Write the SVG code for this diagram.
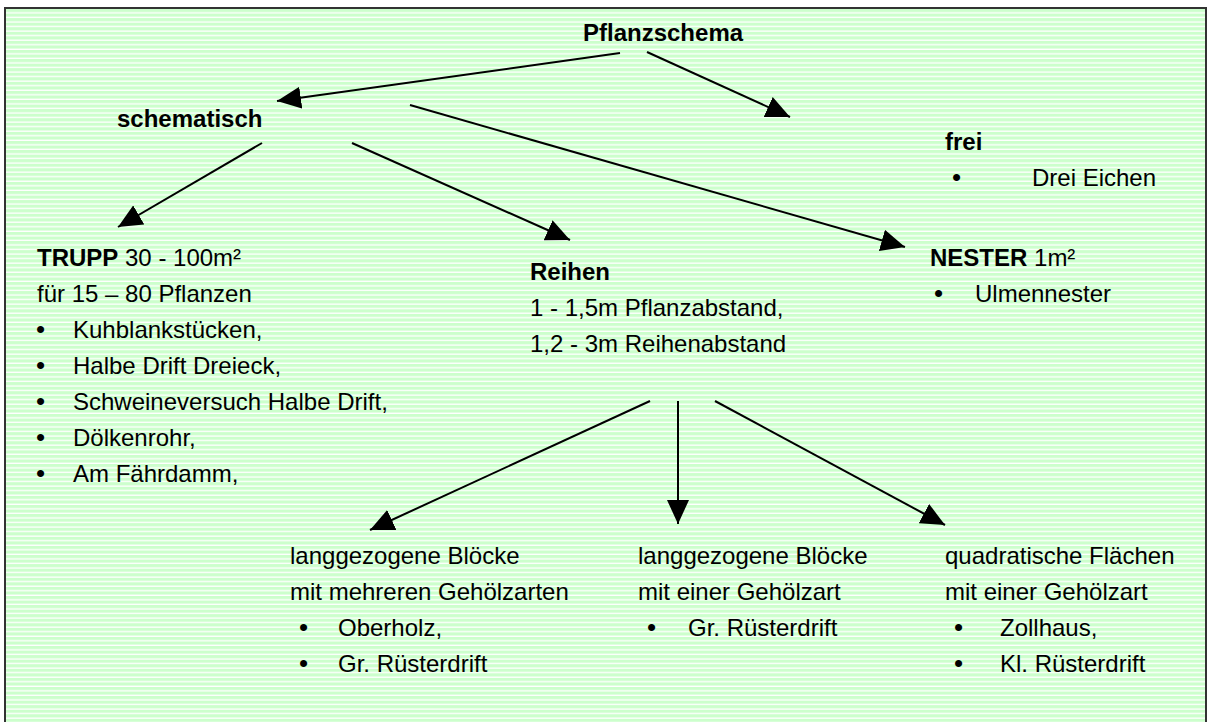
<svg xmlns="http://www.w3.org/2000/svg" width="1209" height="722" viewBox="0 0 1209 722">
<defs>
<pattern id="stripes" patternUnits="userSpaceOnUse" x="0" y="9" width="20" height="4.55">
<rect x="0" y="0" width="20" height="4.55" fill="#ccffcc"/>
<rect x="0" y="3.2" width="20" height="1.35" fill="#ffffff"/>
</pattern>
<marker id="arrow" viewBox="0 0 24 22" refX="24" refY="11" markerWidth="24" markerHeight="22" markerUnits="userSpaceOnUse" orient="auto">
<path d="M0,0 L24,11 L0,22 z" fill="#000"/>
</marker>
</defs>
<style>
text{font-family:"Liberation Sans",Arial,sans-serif;font-size:24px;fill:#000}
.b{font-weight:bold}
.bul{font-size:26px}
.c{stroke:#000;stroke-width:2;fill:none;marker-end:url(#arrow)}
</style>
<rect x="0" y="0" width="1209" height="722" fill="#ffffff"/>
<rect x="5" y="8" width="1201" height="730" fill="url(#stripes)" stroke="#333333" stroke-width="2"/>

<g id="connectors">
<line class="c" x1="620" y1="53" x2="277" y2="101"/>
<line class="c" x1="647" y1="52" x2="790" y2="117"/>
<line class="c" x1="262" y1="143" x2="118" y2="227"/>
<line class="c" x1="352" y1="143" x2="570" y2="240"/>
<line class="c" x1="410" y1="105" x2="905" y2="247"/>
<line class="c" x1="650" y1="401" x2="370" y2="530"/>
<line class="c" x1="678" y1="401" x2="678" y2="524"/>
<line class="c" x1="715" y1="401" x2="945" y2="525"/>
</g>

<g id="pflanzschema"><text class="b" x="583" y="41">Pflanzschema</text></g>
<g id="schematisch"><text class="b" x="117" y="127">schematisch</text></g>
<g id="frei">
<text class="b" x="945" y="150">frei</text>
<text class="bul" x="952" y="186">•</text>
<text x="1032" y="186">Drei Eichen</text>
</g>
<g id="trupp">
<text x="37" y="266"><tspan class="b">TRUPP</tspan> 30 - 100m²</text>
<text x="37" y="302">für 15 – 80 Pflanzen</text>
<text class="bul" x="36" y="338">•</text><text x="73" y="338">Kuhblankstücken,</text>
<text class="bul" x="36" y="374">•</text><text x="73" y="374">Halbe Drift Dreieck,</text>
<text class="bul" x="36" y="410">•</text><text x="73" y="410">Schweineversuch Halbe Drift,</text>
<text class="bul" x="36" y="446">•</text><text x="73" y="446">Dölkenrohr,</text>
<text class="bul" x="36" y="482">•</text><text x="73" y="482">Am Fährdamm,</text>
</g>
<g id="reihen">
<text class="b" x="530" y="280">Reihen</text>
<text x="530" y="316">1 - 1,5m Pflanzabstand,</text>
<text x="530" y="352">1,2 - 3m Reihenabstand</text>
</g>
<g id="nester">
<text x="930" y="266"><tspan class="b">NESTER</tspan> 1m²</text>
<text class="bul" x="934" y="302">•</text><text x="975" y="302">Ulmennester</text>
</g>
<g id="bloecke-mehrere">
<text x="290" y="564">langgezogene Blöcke</text>
<text x="290" y="600">mit mehreren Gehölzarten</text>
<text class="bul" x="299" y="636">•</text><text x="338" y="636">Oberholz,</text>
<text class="bul" x="299" y="672">•</text><text x="338" y="672">Gr. Rüsterdrift</text>
</g>
<g id="bloecke-eine">
<text x="638" y="564">langgezogene Blöcke</text>
<text x="638" y="600">mit einer Gehölzart</text>
<text class="bul" x="647" y="636">•</text><text x="688" y="636">Gr. Rüsterdrift</text>
</g>
<g id="quadratisch">
<text x="945" y="564">quadratische Flächen</text>
<text x="945" y="600">mit einer Gehölzart</text>
<text class="bul" x="954" y="636">•</text><text x="1000" y="636">Zollhaus,</text>
<text class="bul" x="954" y="672">•</text><text x="1000" y="672">Kl. Rüsterdrift</text>
</g>
</svg>
